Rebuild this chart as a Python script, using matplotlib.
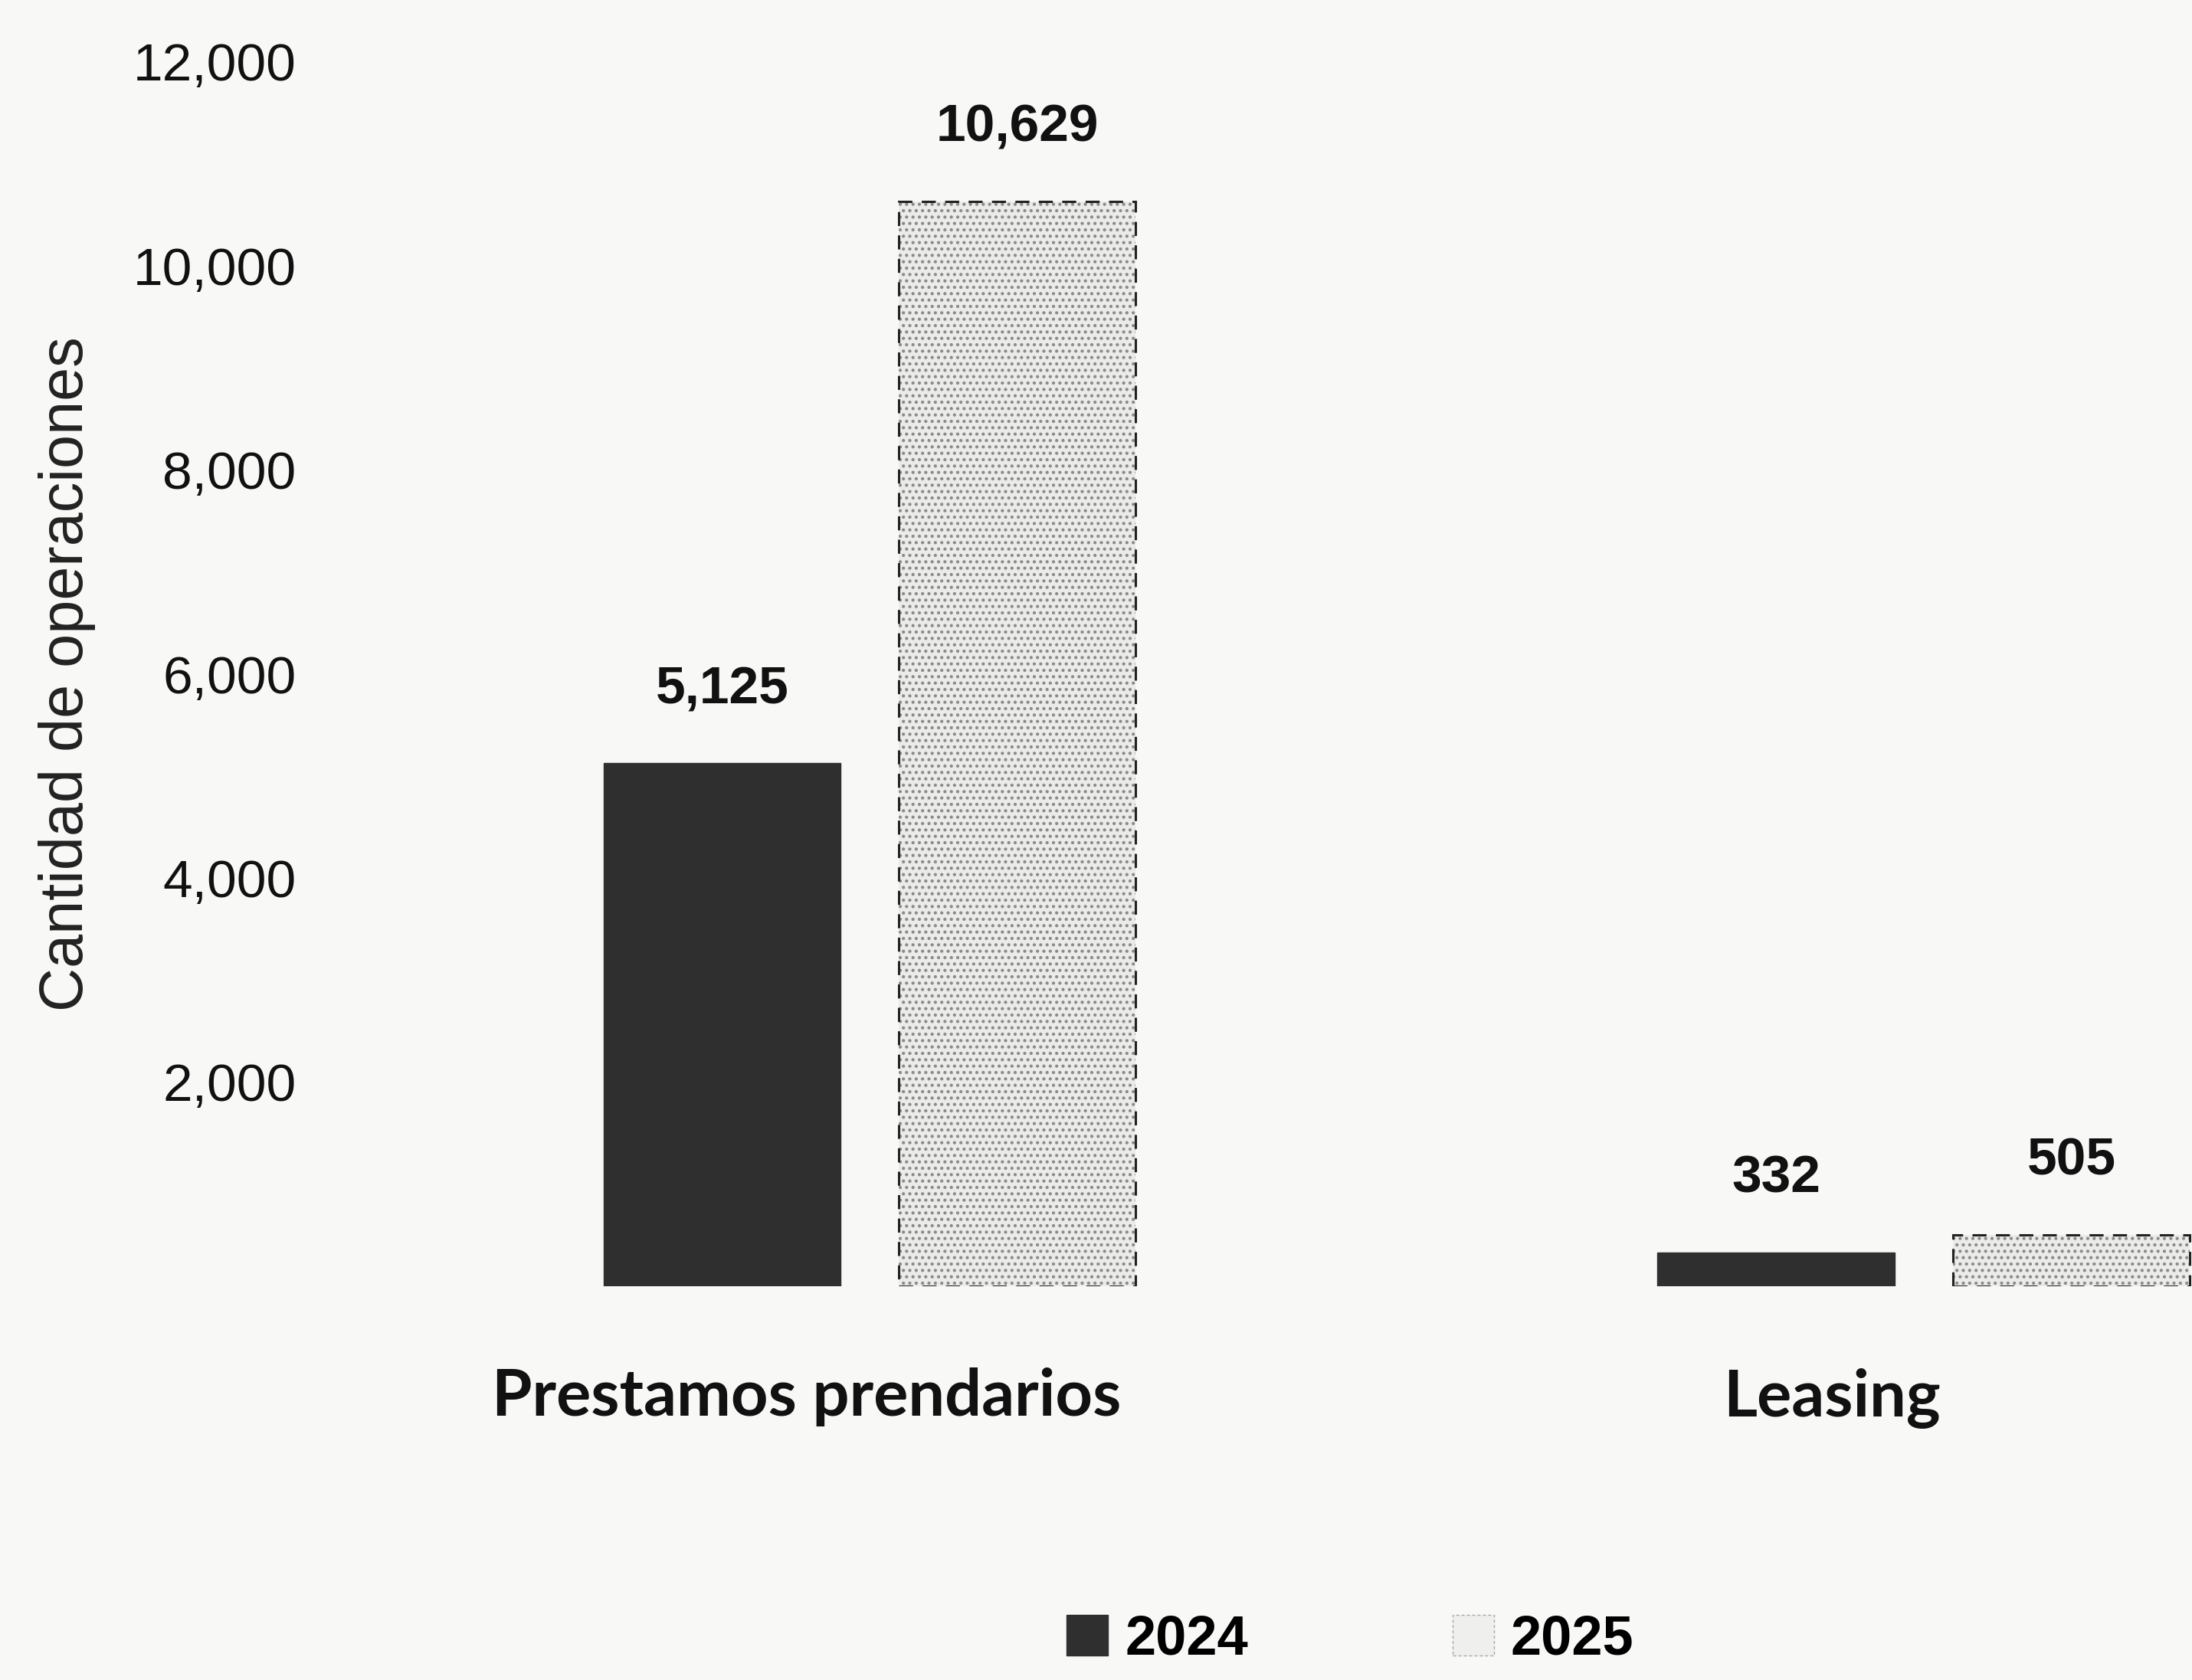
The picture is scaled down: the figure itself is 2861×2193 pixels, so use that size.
import matplotlib
matplotlib.use("Agg")
import matplotlib.pyplot as plt
import numpy as np
from matplotlib.patches import Patch

categories = ["Prestamos prendarios", "Leasing"]
years = ["2024", "2025"]
values_2024 = [5125, 332]
values_2025 = [10629, 505]
yticks = [2000, 4000, 6000, 8000, 10000, 12000]
ylabel = "Cantidad de operaciones"

BG = "#f8f8f6"
DARK = "#2f2f2f"
FAM = ["Liberation Sans", "DejaVu Sans"]

fig = plt.figure(figsize=(28.61, 21.93), dpi=100, facecolor=BG)
ax = fig.add_axes([0.14, 0.2344, 0.86, 0.7291], facecolor=BG)

x = np.arange(len(categories))
w = 0.225
off = 0.14

b1 = ax.bar(x - off, values_2024, w, color=DARK, edgecolor=DARK, linewidth=1)
plt.rcParams['hatch.linewidth'] = 1.8
ax.bar(x + off, values_2025, w, color="#ebebe9", edgecolor="#8a8a8a",
       hatch="..", linewidth=0)
b2 = ax.bar(x + off, values_2025, w, fill=False, edgecolor="#222222",
            linestyle=(0, (6, 4)), linewidth=2.2)

for bars, vals in ((b1, values_2024), (b2, values_2025)):
    ax.bar_label(bars, labels=[f"{v:,}" for v in vals], padding=46,
                 color="#111111", fontsize=50, fontweight="bold", fontfamily=FAM)

ax.set_xlim(-0.534, 1.2546)
ax.set_ylim(0, 12000)
ax.set_yticks(yticks)
ax.set_yticklabels([f"{t:,}" for t in yticks], fontsize=50, family=FAM,
                   color="#111111")
ax.set_xticks([0 - 0.06, 1 - 0.087])
ax.set_xticklabels(categories, fontsize=61, fontweight="bold",
                   family=["Lato", "DejaVu Sans"], color="#111111")
ax.tick_params(axis="y", length=0, pad=10)
ax.tick_params(axis="x", length=0, pad=76)
for s in ax.spines.values():
    s.set_visible(False)

ax.set_ylabel(ylabel, fontsize=57, family=FAM, color="#222222")
ax.yaxis.set_label_coords(-0.112, 0.50)

handles = [Patch(facecolor=DARK, edgecolor=DARK),
           Patch(facecolor="#efefed", edgecolor="#aaaaaa", linestyle=(0, (3, 2)))]
fig.legend(handles, years, loc="center", bbox_to_anchor=(0.616, 0.024), ncol=2,
           frameon=False, handlelength=0.75, handleheight=0.75, handletextpad=0.3,
           columnspacing=3.7, prop=dict(family=FAM, weight="bold", size=52))

fig.savefig("out.png", dpi=100, facecolor=BG)
